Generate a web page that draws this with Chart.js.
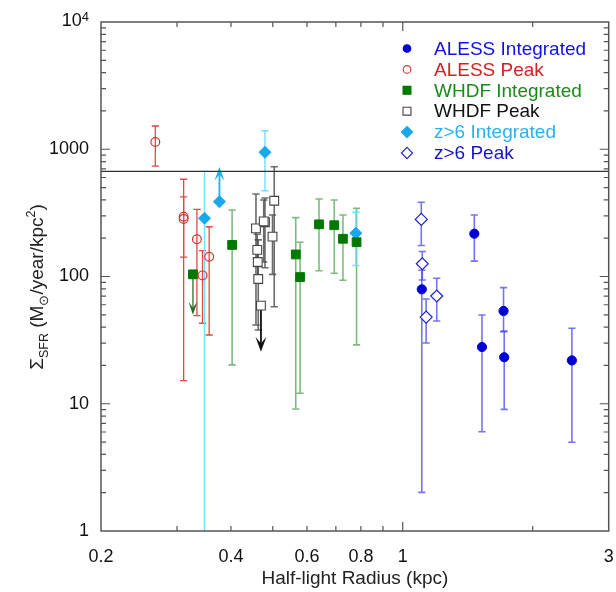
<!DOCTYPE html>
<html>
<head>
<meta charset="utf-8">
<script src="https://cdn.jsdelivr.net/npm/chart.js@4/dist/chart.umd.min.js"></script>
<style>
  html, body { margin: 0; padding: 0; background: #fff; }
  canvas { display: block; }
</style>
</head>
<body>
<canvas id="chart" width="616" height="592"></canvas>
<script>
// ---- Star-formation surface density vs half-light radius ----

// ALESS, integrated
const alessIntR  = [1.107, 1.465, 1.526, 1.712, 1.718, 2.465];
const alessIntS  = [79.3, 217, 27.9, 53.6, 23.2, 21.9];
const alessIntLo = [2.01, 132, 6.03, 36.8, 9.04, 4.98];
const alessIntHi = [112, 304, 49.8, 81.7, 37.3, 39.2];

// ALESS, peak
const alessPeakR  = [0.2672, 0.3108, 0.3108, 0.3336, 0.3561, 0.3437];
const alessPeakS  = [1140, 295, 283, 196, 143, 102];
const alessPeakLo = [738, 15.2, 142, 49.2, 34.7, 42.9];
const alessPeakHi = [1523, 581, 422, 337, 246, 160];

// WHDF, integrated (first source is an upper limit)
const whdfIntR  = [0.3266, 0.4025, 0.5652, 0.5783, 0.6398, 0.6940, 0.7269, 0.7817];
const whdfIntS  = [104, 177, 149, 99, 257, 253, 198, 186];
const whdfIntLo = [null, 20.2, 9.1, 12.1, 111, 106, 93.4, 29.0];
const whdfIntHi = [null, 333, 290, 186, 406, 399, 304, 344];
const whdfIntLimitTo = [50, null, null, null, null, null, null, null];

// WHDF, peak (last source is an upper limit)
const whdfPeakR  = [0.5039, 0.4571, 0.4796, 0.4764, 0.4993, 0.4627, 0.4603, 0.4615, 0.4694];
const whdfPeakS  = [394, 239, 267, 271, 206, 95.6, 162, 130, 59];
const whdfPeakLo = [57.9, 41.6, 117, 130, 104, 38, 120, 100, null];
const whdfPeakHi = [729, 445, 414, 399, 304, 194, 215, 170, null];
const whdfPeakLimitTo = [null, null, null, null, null, null, null, null, 25.6];

// z>6, integrated (second source is a lower limit)
const z6IntR  = [0.3474, 0.3762, 0.4796, 0.7788];
const z6IntS  = [287, 387, 946, 219];
const z6IntLo = [0.3, null, 472, 122];
const z6IntHi = [670, null, 1399, 320];
const z6IntLimitTo = [null, 729, null, null];

// z>6, peak
const z6PeakR  = [1.104, 1.110, 1.199, 1.133];
const z6PeakS  = [281, 126, 70.3, 48.0];
const z6PeakLo = [175, 93.9, 44.7, 30.0];
const z6PeakHi = [383, 157, 96.8, 66.6];

// Reference surface-density level
const refLevel = 670;

// Axis ticks
const xTickValues = [0.2, 0.4, 0.6, 0.8, 1, 3];
const xTickLabels = ['0.2', '0.4', '0.6', '0.8', '1', '3'];
const xMinorTicks = [0.3, 0.4, 0.5, 0.6, 0.7, 0.8, 0.9, 2];
const xMajorTicks = [1];
const yTickValues = [1, 10, 100, 1000, 10000];
const yTickLabels = ['1', '10', '100', '1000', ['10', '4']];
const yMajorTicks = [10, 100, 1000];
const yMinorTicks = [2,3,4,5,6,7,8,9, 20,30,40,50,60,70,80,90,
                     200,300,400,500,600,700,800,900, 2000,3000,4000,5000,6000,7000,8000,9000];

const FONT = "'Liberation Sans', Arial, Helvetica, sans-serif";
Chart.defaults.font.family = FONT;

const pts = (xs, ys) => xs.map((v, i) => ({ x: v, y: ys[i] }));

const datasets = [
  {
    label: 'ALESS Integrated',
    data: pts(alessIntR, alessIntS),
    pointStyle: 'circle', pointRadius: 4.6,
    backgroundColor: '#0000d6', borderColor: '#0000d6', borderWidth: 1,
    textColor: '#1010e8',
    err: { lo: alessIntLo, hi: alessIntHi, color: 'rgba(70,70,235,0.75)', width: 1.6 }
  },
  {
    label: 'ALESS Peak',
    data: pts(alessPeakR, alessPeakS),
    pointStyle: 'circle', pointRadius: 4.4,
    backgroundColor: 'rgba(0,0,0,0)', borderColor: '#d83434', borderWidth: 1.2,
    textColor: '#d42020',
    err: { lo: alessPeakLo, hi: alessPeakHi, color: '#e04848', width: 1.3 }
  },
  {
    label: 'WHDF Integrated',
    data: pts(whdfIntR, whdfIntS),
    pointStyle: 'rect', pointRadius: 6.2,
    backgroundColor: '#007800', borderColor: '#007800', borderWidth: 1,
    textColor: '#1a8a1a',
    err: { lo: whdfIntLo, hi: whdfIntHi, color: 'rgba(40,140,40,0.6)', width: 1.6 },
    limit: { to: whdfIntLimitTo, line: 'rgba(60,130,60,0.8)', head: '#2a6a2a', w: 9, len: 13 }
  },
  {
    label: 'WHDF Peak',
    data: pts(whdfPeakR, whdfPeakS),
    pointStyle: 'rect', pointRadius: 6.2,
    backgroundColor: '#ffffff', borderColor: '#444444', borderWidth: 1.1,
    textColor: '#111111',
    err: { lo: whdfPeakLo, hi: whdfPeakHi, color: 'rgba(70,70,70,0.8)', width: 1.6 },
    limit: { to: whdfPeakLimitTo, line: '#111', head: '#111', w: 11, len: 15 }
  },
  {
    label: 'z>6 Integrated',
    data: pts(z6IntR, z6IntS),
    pointStyle: 'rectRot', pointRadius: 6,
    backgroundColor: '#18a8ee', borderColor: '#18a8ee', borderWidth: 1,
    textColor: '#2ab2f0',
    err: { lo: z6IntLo, hi: z6IntHi, color: '#70e0ff', width: 1.4 },
    limit: { to: z6IntLimitTo, line: '#22b0f0', head: '#22b0f0', w: 10, len: 14 }
  },
  {
    label: 'z>6 Peak',
    data: pts(z6PeakR, z6PeakS),
    pointStyle: 'rectRot', pointRadius: 6,
    backgroundColor: '#ffffff', borderColor: '#2020d0', borderWidth: 1.2,
    textColor: '#1414c8',
    err: { lo: z6PeakLo, hi: z6PeakHi, color: 'rgba(70,70,235,0.75)', width: 1.6 }
  },
  {
    label: 'reference level',
    data: [{ x: xTickValues[0], y: refLevel }, { x: xTickValues[xTickValues.length - 1], y: refLevel }],
    showLine: true, pointRadius: 0,
    borderColor: '#333333', borderWidth: 1.3, inLegend: false
  }
];

// Error bars and limit arrows, drawn beneath the markers
const errorBars = {
  id: 'errorBars',
  beforeDatasetsDraw(chart) {
    const { ctx, chartArea: a, scales: { x, y } } = chart;
    ctx.save();
    ctx.beginPath();
    ctx.rect(a.left, a.top, a.right - a.left, a.bottom - a.top);
    ctx.clip();
    const cap = 3.6;
    chart.data.datasets.forEach(ds => {
      if (ds.err) {
        ctx.strokeStyle = ds.err.color;
        ctx.lineWidth = ds.err.width;
        ds.data.forEach((p, i) => {
          const lo = ds.err.lo[i], hi = ds.err.hi[i];
          if (lo == null || hi == null) return;
          const px = x.getPixelForValue(p.x);
          const yl = y.getPixelForValue(lo), yh = y.getPixelForValue(hi);
          ctx.beginPath();
          ctx.moveTo(px, yl); ctx.lineTo(px, yh);
          ctx.moveTo(px - cap, yh); ctx.lineTo(px + cap, yh);
          ctx.moveTo(px - cap, yl); ctx.lineTo(px + cap, yl);
          ctx.stroke();
        });
      }
      if (ds.limit) {
        ds.data.forEach((p, i) => {
          const to = ds.limit.to[i];
          if (to == null) return;
          const px = x.getPixelForValue(p.x);
          const y0 = y.getPixelForValue(p.y), y1 = y.getPixelForValue(to);
          const dir = y1 > y0 ? 1 : -1;
          const { w, len } = ds.limit;
          ctx.strokeStyle = ds.limit.line;
          ctx.lineWidth = 1.8;
          ctx.beginPath();
          ctx.moveTo(px, y0); ctx.lineTo(px, y1 - dir * len * 0.5);
          ctx.stroke();
          ctx.fillStyle = ds.limit.head;
          ctx.beginPath();
          ctx.moveTo(px, y1);
          ctx.lineTo(px - w / 2, y1 - dir * len);
          ctx.lineTo(px, y1 - dir * len * 0.55);
          ctx.lineTo(px + w / 2, y1 - dir * len);
          ctx.closePath();
          ctx.fill();
        });
      }
    });
    ctx.restore();
  }
};

// Plot frame with inward tick marks on all four sides
const frame = {
  id: 'frame',
  afterDatasetsDraw(chart) {
    const { ctx, chartArea: a, scales: { x, y } } = chart;
    ctx.save();
    ctx.strokeStyle = '#555555';
    ctx.lineWidth = 1.5;
    ctx.strokeRect(a.left, a.top, a.right - a.left, a.bottom - a.top);
    ctx.lineWidth = 1.2;
    ctx.beginPath();
    const xt = (v, l) => {
      const px = x.getPixelForValue(v);
      ctx.moveTo(px, a.bottom); ctx.lineTo(px, a.bottom - l);
      ctx.moveTo(px, a.top); ctx.lineTo(px, a.top + l);
    };
    const yt = (v, l) => {
      const py = y.getPixelForValue(v);
      ctx.moveTo(a.left, py); ctx.lineTo(a.left + l, py);
      ctx.moveTo(a.right, py); ctx.lineTo(a.right - l, py);
    };
    xMinorTicks.forEach(v => xt(v, 5));
    xMajorTicks.forEach(v => xt(v, 9));
    yMinorTicks.forEach(v => yt(v, 5));
    yMajorTicks.forEach(v => yt(v, 9));
    ctx.stroke();
    ctx.restore();
  }
};

// Legend in the upper right of the plot, text coloured per series
function marker(ctx, style, x, y, r) {
  ctx.beginPath();
  if (style === 'circle') {
    ctx.arc(x, y, r, 0, Math.PI * 2);
  } else if (style === 'rect') {
    const h = r * Math.SQRT1_2;
    ctx.rect(x - h, y - h, 2 * h, 2 * h);
  } else {
    ctx.moveTo(x, y - r); ctx.lineTo(x + r, y); ctx.lineTo(x, y + r); ctx.lineTo(x - r, y);
    ctx.closePath();
  }
}
const legendBox = {
  id: 'legendBox',
  afterDraw(chart) {
    const { ctx } = chart;
    ctx.save();
    ctx.font = '19px ' + FONT;
    ctx.textBaseline = 'middle';
    ctx.textAlign = 'left';
    let row = 0;
    chart.data.datasets.forEach(ds => {
      if (ds.inLegend === false) return;
      const yy = 48.5 + row * 20.9;
      const r = ds.pointStyle === 'circle' ? 3.8 : 5.6;
      marker(ctx, ds.pointStyle, 407, yy, r);
      ctx.fillStyle = ds.backgroundColor;
      ctx.fill();
      ctx.lineWidth = 1.1;
      ctx.strokeStyle = ds.borderColor;
      ctx.stroke();
      ctx.fillStyle = ds.textColor;
      ctx.fillText(ds.label, 434, yy + 1);
      row++;
    });
    ctx.restore();
  }
};

// Axis text that needs sub- and superscripts: the vertical title and the 10^4 tick
const axisText = {
  id: 'axisText',
  afterDraw(chart) {
    const { ctx, chartArea: a, scales: { y } } = chart;
    const big = 19, small = 12.5;
    const parts = [
      { t: '\u03A3', s: big, dy: 0 },
      { t: 'SFR', s: small, dy: 5 },
      { t: ' (M', s: big, dy: 0 },
      { t: '\u2299', s: small, dy: 5 },
      { t: '/year/kpc', s: big, dy: 0 },
      { t: '2', s: small, dy: -8 },
      { t: ')', s: big, dy: 0 }
    ];
    ctx.save();
    let total = 0;
    parts.forEach(p => { ctx.font = p.s + 'px ' + FONT; p.w = ctx.measureText(p.t).width; total += p.w; });
    ctx.translate(36, 287);
    ctx.rotate(-Math.PI / 2);
    ctx.fillStyle = '#222222';
    ctx.textBaseline = 'alphabetic';
    let cx = -total / 2;
    parts.forEach(p => {
      ctx.font = p.s + 'px ' + FONT;
      ctx.fillText(p.t, cx, 7 + p.dy);
      cx += p.w;
    });
    ctx.restore();

    // top tick label: 10 with superscript 4
    const [base, pow] = yTickLabels[yTickLabels.length - 1];
    const py = y.getPixelForValue(yTickValues[yTickValues.length - 1]);
    ctx.save();
    ctx.fillStyle = '#111111';
    ctx.textBaseline = 'alphabetic';
    ctx.font = '13px ' + FONT;
    const pw = ctx.measureText(pow).width;
    const right = a.left - 12;
    ctx.textAlign = 'right';
    ctx.fillText(pow, right, py - 1);
    ctx.font = '18px ' + FONT;
    ctx.fillText(base, right - pw, py + 4);
    ctx.restore();
  }
};

new Chart(document.getElementById('chart'), {
  type: 'scatter',
  data: { datasets },
  options: {
    responsive: false,
    animation: false,
    devicePixelRatio: 1,
    events: [],
    layout: { padding: { left: 0, right: 5, top: 22, bottom: 0 } },
    plugins: { legend: { display: false }, tooltip: { enabled: false } },
    scales: {
      x: {
        type: 'logarithmic',
        min: 0.2, max: 3,
        grid: { display: false, drawTicks: false },
        border: { display: false },
        afterBuildTicks: s => { s.ticks = xTickValues.map(v => ({ value: v })); },
        afterFit: s => { s.height = 61; s.paddingLeft = 0; s.paddingRight = 0; },
        ticks: {
          autoSkip: false, maxRotation: 0, padding: 15,
          color: '#111111', font: { size: 18 },
          callback: v => {
            const l = xTickLabels[xTickValues.indexOf(v)];
            return typeof l === 'string' ? l : '';
          }
        },
        title: {
          display: true, text: 'Half-light Radius (kpc)',
          color: '#222222', font: { size: 19 }, padding: { top: 0, bottom: 2 }
        }
      },
      y: {
        type: 'logarithmic',
        min: 1, max: 10000,
        grid: { display: false, drawTicks: false },
        border: { display: false },
        afterBuildTicks: s => { s.ticks = yTickValues.map(v => ({ value: v })); },
        afterFit: s => { s.width = 101; s.paddingTop = 0; s.paddingBottom = 0; },
        ticks: {
          autoSkip: false, padding: 12,
          color: '#111111', font: { size: 18 },
          callback: v => {
            const l = yTickLabels[yTickValues.indexOf(v)];
            return typeof l === 'string' ? l : '';
          }
        }
      }
    }
  },
  plugins: [errorBars, frame, legendBox, axisText]
});
</script>
</body>
</html>
